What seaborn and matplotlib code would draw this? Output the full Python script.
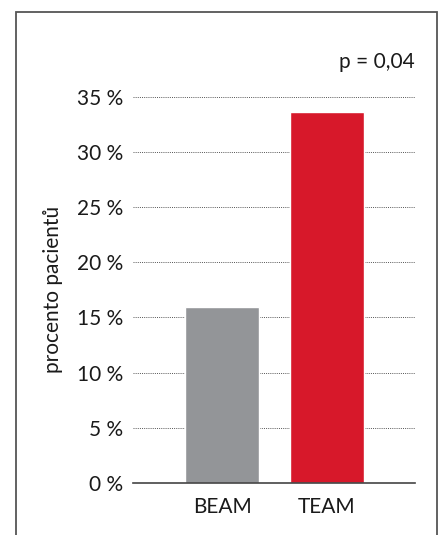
import matplotlib
matplotlib.use("Agg")
import matplotlib.pyplot as plt
import seaborn as sns
import pandas as pd
from matplotlib.patches import Rectangle

categories = ["BEAM", "TEAM"]
values = [15.9, 33.6]
colors = ["#939598", "#D7182A"]
yticks = [0, 5, 10, 15, 20, 25, 30, 35]
ytick_labels = ["0 %", "5 %", "10 %", "15 %", "20 %", "25 %", "30 %", "35 %"]
ylabel = "procento pacientů"
pvalue_text = "p = 0,04"

sns.set_style("white")
plt.rcParams['font.family'] = ['Lato', 'DejaVu Sans']

W, H = 439, 535
fig = plt.figure(figsize=(W/100, H/100), dpi=100)
ax = fig.add_axes([133/W, (H-483)/H, (415-133)/W, (483-96.6)/H])

df = pd.DataFrame({"cat": categories, "val": values})
sns.barplot(data=df, x="cat", y="val", hue="cat", palette=colors, width=0.705,
            ax=ax, legend=False, saturation=1, zorder=3)

ax.set_xlim(-0.85, 1.84)
ax.set_ylim(0, 35)
ax.set_yticks(yticks)
ax.set_yticklabels(ytick_labels)
ax.yaxis.grid(True, linestyle=(0, (1, 1.2)), color="#555555", linewidth=0.7, zorder=0)
ax.xaxis.grid(False)
for s in ["top", "right", "left"]:
    ax.spines[s].set_visible(False)
ax.spines["bottom"].set_color("#444444")
ax.spines["bottom"].set_linewidth(1.2)
ax.spines["bottom"].set_zorder(4)
fs = 15
ax.tick_params(axis="both", length=0, labelsize=fs, colors="#1a1a1a")
ax.tick_params(axis="y", pad=7)
ax.tick_params(axis="x", pad=10)
ax.set_xlabel("")
ax.set_ylabel(ylabel, fontsize=fs, color="#1a1a1a", labelpad=10)

ax.text(1.0, 1.09, pvalue_text, transform=ax.transAxes, ha="right", va="center",
        fontsize=fs, color="#1a1a1a")

frame = Rectangle((16/W, -0.05), (437-16)/W, (H-12)/H + 0.05, transform=fig.transFigure,
                  fill=False, edgecolor="#555555", linewidth=1.3, clip_on=False)
fig.patches.append(frame)

fig.savefig("out.png", dpi=100)
